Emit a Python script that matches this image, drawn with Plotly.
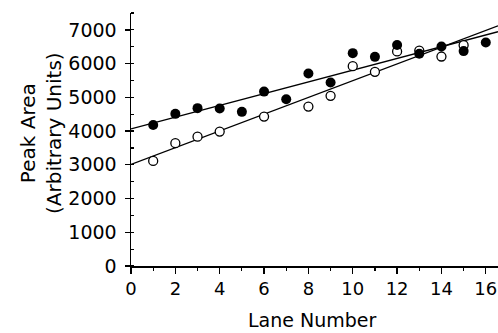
import numpy as np
import plotly.graph_objects as go

# Data
filled_lanes = [1, 2, 3, 4, 5, 6, 7, 8, 9, 10, 11, 12, 13, 14, 15, 16]
filled_area = [4180, 4510, 4680, 4670, 4570, 5170, 4945, 5705, 5440, 6310, 6200, 6550, 6290, 6505, 6370, 6625]
open_lanes = [1, 2, 3, 4, 6, 8, 9, 10, 11, 12, 13, 14, 15]
open_area = [3115, 3640, 3835, 3985, 4430, 4725, 5045, 5925, 5755, 6360, 6385, 6210, 6545]
x_tick_vals = [0, 2, 4, 6, 8, 10, 12, 14, 16]
y_tick_vals = [0, 1000, 2000, 3000, 4000, 5000, 6000, 7000]

X_MAX = 16.55
Y_MAX = 7500

fig = go.Figure()

# regression lines computed from the data
fit_x = np.array([0, X_MAX])
for xs, ys in [(filled_lanes, filled_area), (open_lanes, open_area)]:
    k, b = np.polyfit(xs, ys, 1)
    fig.add_trace(go.Scatter(x=fit_x, y=k * fit_x + b, mode="lines",
                             line=dict(color="black", width=1.4),
                             showlegend=False, hoverinfo="skip"))

fig.add_trace(go.Scatter(x=open_lanes, y=open_area, mode="markers",
                         marker=dict(symbol="circle", size=9, color="white",
                                     line=dict(color="black", width=1.3)),
                         showlegend=False))
fig.add_trace(go.Scatter(x=filled_lanes, y=filled_area, mode="markers",
                         marker=dict(symbol="circle", size=10, color="black",
                                     line=dict(width=0)),
                         showlegend=False))

font = "DejaVu Sans"
fig.update_layout(
    width=498, height=333,
    margin=dict(l=131, r=0, t=13, b=67),
    paper_bgcolor="white", plot_bgcolor="white",
    font=dict(family=font, size=19, color="black"),
    showlegend=False,
)
fig.update_xaxes(
    range=[0, X_MAX], tickvals=x_tick_vals, showgrid=False, zeroline=False,
    showline=True, linecolor="black", linewidth=1.5,
    ticks="outside", ticklen=6, tickwidth=1.3, tickcolor="black",
    minor=dict(dtick=1, tick0=0, ticks="outside", ticklen=3, tickwidth=1.2, tickcolor="black"),
    tickfont=dict(size=18, family=font),
)
fig.update_yaxes(
    range=[0, Y_MAX], tickvals=y_tick_vals, showgrid=False, zeroline=False,
    showline=True, linecolor="black", linewidth=1.5,
    ticks="outside", ticklen=5, tickwidth=1.3, tickcolor="black",
    minor=dict(dtick=500, tick0=0, ticks="inside", ticklen=3, tickwidth=1.2, tickcolor="black"),
    tickfont=dict(size=19, family=font), ticklabelstandoff=4,
)

fig.add_annotation(text="Peak Area<br>(Arbitrary Units)", textangle=-90,
                   xref="paper", yref="paper", x=(41 - 131) / 367, y=(266 - 133) / 253,
                   xanchor="center", yanchor="middle", showarrow=False,
                   font=dict(size=20, family=font), align="center")
fig.add_annotation(text="Lane Number", xref="paper", yref="paper",
                   x=(312 - 131) / 367, y=(266 - 320) / 253,
                   xanchor="center", yanchor="middle", showarrow=False,
                   font=dict(size=19, family=font))

# remove the default page margin so the figure fills the window exactly
fig.write_html(
    "out.html",
    config={"displayModeBar": False, "staticPlot": True},
    post_script="document.body.style.margin='0';"
                "document.documentElement.style.overflow='hidden';"
                "document.body.style.overflow='hidden';",
)
